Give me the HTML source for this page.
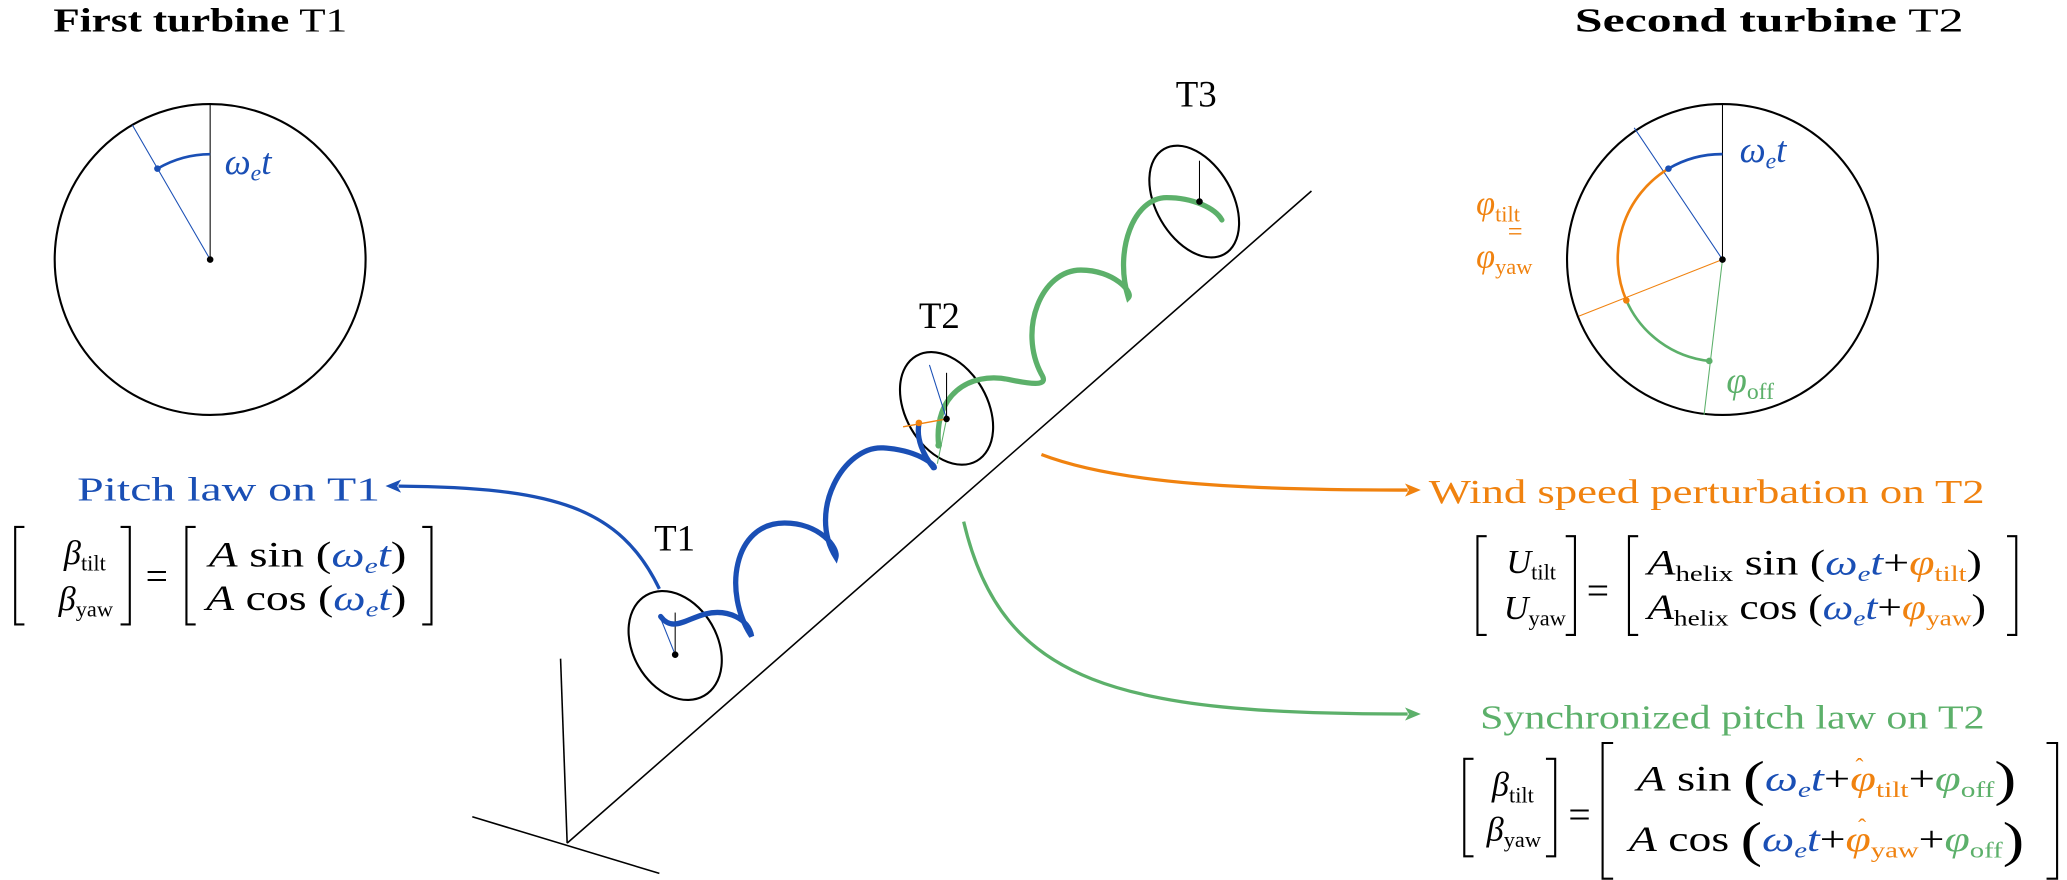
<!DOCTYPE html>
<html><head><meta charset="utf-8"><style>
html,body{margin:0;padding:0;background:#fff;}
svg{display:block;}
text{font-family:"Liberation Serif",serif;}
.b{fill:#1a4fb5}.o{fill:#f0820f}.g{fill:#5cb06a}
</style></head><body>
<svg width="2067" height="880" viewBox="0 0 1568 668" xmlns="http://www.w3.org/2000/svg">
<defs>
<marker id="ab" markerWidth="12" markerHeight="10" refX="2" refY="5" orient="auto" markerUnits="userSpaceOnUse"><path d="M0,0 L12,5 L0,10 L3,5z" fill="#1a4fb5"/></marker>
<marker id="ao" markerWidth="12" markerHeight="10" refX="2" refY="5" orient="auto" markerUnits="userSpaceOnUse"><path d="M0,0 L12,5 L0,10 L3,5z" fill="#f0820f"/></marker>
<marker id="ag" markerWidth="12" markerHeight="10" refX="2" refY="5" orient="auto" markerUnits="userSpaceOnUse"><path d="M0,0 L12,5 L0,10 L3,5z" fill="#5cb06a"/></marker>
</defs>
<text x="40" y="24" font-size="26" textLength="223" lengthAdjust="spacingAndGlyphs"><tspan font-weight="bold">First turbine</tspan> T1</text>
<text x="1195" y="24" font-size="26" textLength="295" lengthAdjust="spacingAndGlyphs"><tspan font-weight="bold">Second turbine</tspan> T2</text>

<circle cx="159" cy="197" r="118" fill="none" stroke="#000" stroke-width="1.6"/>
<line x1="159" y1="79" x2="159" y2="197" stroke="#000" stroke-width="0.8"/>
<line x1="159" y1="197" x2="100" y2="95" stroke="#1a4fb5" stroke-width="0.8"/>
<path d="M159,117 A80,80 0 0 0 119,128" fill="none" stroke="#1a4fb5" stroke-width="2"/>
<circle cx="119" cy="128" r="2.5" fill="#1a4fb5"/>
<circle cx="159" cy="197" r="2.5" fill="#000"/>
<text x="170" y="132" font-size="28" font-style="italic" class="b">ω<tspan font-size="18" dy="5">e</tspan><tspan dy="-5">t</tspan></text>

<circle cx="1307" cy="197" r="118" fill="none" stroke="#000" stroke-width="1.6"/>
<line x1="1307" y1="79" x2="1307" y2="197" stroke="#000" stroke-width="0.8"/>
<line x1="1307" y1="197" x2="1240" y2="97" stroke="#1a4fb5" stroke-width="0.8"/>
<line x1="1307" y1="197" x2="1198" y2="240" stroke="#f0820f" stroke-width="0.8"/>
<line x1="1307" y1="197" x2="1293" y2="315" stroke="#5cb06a" stroke-width="0.8"/>
<path d="M1307,117 A80,80 0 0 0 1266,128" fill="none" stroke="#1a4fb5" stroke-width="2"/>
<path d="M1266,128 A80,80 0 0 0 1234,228" fill="none" stroke="#f0820f" stroke-width="2"/>
<path d="M1234,228 A78,78 0 0 0 1297,274" fill="none" stroke="#5cb06a" stroke-width="2"/>
<circle cx="1266" cy="128" r="2.5" fill="#1a4fb5"/>
<circle cx="1234" cy="228" r="2.5" fill="#f0820f"/>
<circle cx="1297" cy="274" r="2.5" fill="#5cb06a"/>
<circle cx="1307" cy="197" r="2.5" fill="#000"/>
<text x="1320" y="123" font-size="28" font-style="italic" class="b">ω<tspan font-size="18" dy="5">e</tspan><tspan dy="-5">t</tspan></text>
<text x="1120" y="163" font-size="26" class="o"><tspan font-style="italic">φ</tspan><tspan font-size="17" dy="5">tilt</tspan></text>
<text x="1144" y="182" font-size="20" class="o">=</text>
<text x="1120" y="203" font-size="26" class="o"><tspan font-style="italic">φ</tspan><tspan font-size="17" dy="5">yaw</tspan></text>
<text x="1310" y="298" font-size="28" class="g"><tspan font-style="italic">φ</tspan><tspan font-size="18" dy="5">off</tspan></text>

<line x1="430" y1="640" x2="995" y2="145" stroke="#000" stroke-width="1.2"/>
<line x1="425" y1="500" x2="430" y2="640" stroke="#000" stroke-width="1.2"/>
<line x1="358" y1="620" x2="500" y2="663" stroke="#000" stroke-width="1.2"/>

<ellipse cx="512" cy="490" rx="32" ry="44" transform="rotate(-30 512 490)" fill="none" stroke="#000" stroke-width="1.6"/>
<line x1="512" y1="465" x2="512" y2="497" stroke="#000" stroke-width="0.8"/>
<line x1="500" y1="467" x2="512" y2="497" stroke="#1a4fb5" stroke-width="0.8"/>
<circle cx="512" cy="497" r="2.5" fill="#000"/>
<ellipse cx="718" cy="310" rx="31" ry="46" transform="rotate(-30 718 310)" fill="none" stroke="#000" stroke-width="1.6"/>
<ellipse cx="906" cy="153" rx="29" ry="46" transform="rotate(-30 906 153)" fill="none" stroke="#000" stroke-width="1.6"/>
<line x1="910" y1="122" x2="910" y2="153" stroke="#000" stroke-width="0.8"/>

<path d="M501,468 C510,480 520,470 535,466 C552,462 568,470 570,483 C548,450 556,397 595,397 C622,397 636,416 634,423 C612,388 640,338 670,340 C700,342 712,356 708,355 C700,345 695,333 697,322" fill="none" stroke="#1a4fb5" stroke-width="4" stroke-linecap="round"/>
<path d="M712,338 C708,300 735,282 765,288 C788,293 795,292 790,284 C772,250 790,205 820,205 C845,205 860,222 856,226 C845,190 860,150 885,150 C905,150 922,158 927,167" fill="none" stroke="#5cb06a" stroke-width="4" stroke-linecap="round"/>
<line x1="718" y1="283" x2="718" y2="318" stroke="#000" stroke-width="0.8"/>
<line x1="705" y1="277" x2="718" y2="318" stroke="#1a4fb5" stroke-width="0.8"/>
<line x1="685" y1="324" x2="718" y2="318" stroke="#f0820f" stroke-width="1"/>
<line x1="718" y1="318" x2="711" y2="352" stroke="#5cb06a" stroke-width="0.8"/>
<circle cx="697" cy="321" r="2.5" fill="#f0820f"/>
<circle cx="712" cy="338" r="2.5" fill="#5cb06a"/>
<circle cx="718" cy="318" r="2.5" fill="#000"/>
<circle cx="910" cy="153" r="2.5" fill="#000"/>

<text x="496" y="418" font-size="28">T1</text>
<text x="697" y="249" font-size="28">T2</text>
<text x="892" y="81" font-size="28">T3</text>

<path d="M500,447 C470,385 420,370 302,369" fill="none" stroke="#1a4fb5" stroke-width="2.5" marker-end="url(#ab)"/>
<path d="M790,345 C850,368 950,372 1068,372" fill="none" stroke="#f0820f" stroke-width="2.5" marker-end="url(#ao)"/>
<path d="M731,396 C760,520 850,542 1068,542" fill="none" stroke="#5cb06a" stroke-width="2.5" marker-end="url(#ag)"/>

<text x="58" y="380" font-size="26" class="b" textLength="230" lengthAdjust="spacingAndGlyphs">Pitch law on T1</text>
<text x="1084" y="382" font-size="26" class="o" textLength="422" lengthAdjust="spacingAndGlyphs">Wind speed perturbation on T2</text>
<text x="1123" y="553" font-size="26" class="g" textLength="383" lengthAdjust="spacingAndGlyphs">Synchronized pitch law on T2</text>

<g fill="none" stroke="#000" stroke-width="1.6">
<path d="M18,400 H11 V474 H18"/><path d="M91,400 H98 V474 H91"/>
<path d="M148,400 H141 V474 H148"/><path d="M320,400 H327 V474 H320"/>
<path d="M1128,407 H1121 V482 H1128"/><path d="M1188,407 H1195 V482 H1188"/>
<path d="M1243,407 H1236 V482 H1243"/><path d="M1523,407 H1530 V482 H1523"/>
<path d="M1118,576 H1111 V650 H1118"/><path d="M1173,576 H1180 V650 H1173"/>
<path d="M1224,564 H1216 V667 H1224"/><path d="M1553,564 H1561 V667 H1553"/>
</g>
<text x="48" y="428" font-size="26"><tspan font-style="italic">β</tspan><tspan font-size="17" dy="5">tilt</tspan></text>
<text x="44" y="463" font-size="26"><tspan font-style="italic">β</tspan><tspan font-size="17" dy="5">yaw</tspan></text>
<text x="110" y="447" font-size="30">=</text>
<text x="158" y="430" font-size="27" textLength="150" lengthAdjust="spacingAndGlyphs"><tspan font-style="italic">A</tspan> sin (<tspan class="b" font-style="italic">ω<tspan font-size="17" dy="5">e</tspan><tspan dy="-5">t</tspan></tspan>)</text>
<text x="156" y="463" font-size="27" textLength="152" lengthAdjust="spacingAndGlyphs"><tspan font-style="italic">A</tspan> cos (<tspan class="b" font-style="italic">ω<tspan font-size="17" dy="5">e</tspan><tspan dy="-5">t</tspan></tspan>)</text>

<text x="1143" y="435" font-size="26"><tspan font-style="italic">U</tspan><tspan font-size="17" dy="5">tilt</tspan></text>
<text x="1141" y="470" font-size="26"><tspan font-style="italic">U</tspan><tspan font-size="17" dy="5">yaw</tspan></text>
<text x="1204" y="458" font-size="30">=</text>
<text x="1250" y="436" font-size="27" textLength="254" lengthAdjust="spacingAndGlyphs"><tspan font-style="italic">A</tspan><tspan font-size="17" dy="5">helix</tspan><tspan dy="-5"> sin (</tspan><tspan class="b" font-style="italic">ω<tspan font-size="17" dy="5">e</tspan><tspan dy="-5">t</tspan></tspan>+<tspan class="o"><tspan font-style="italic">φ</tspan><tspan font-size="17" dy="5">tilt</tspan></tspan><tspan dy="-5">)</tspan></text>
<text x="1250" y="470" font-size="27" textLength="257" lengthAdjust="spacingAndGlyphs"><tspan font-style="italic">A</tspan><tspan font-size="17" dy="5">helix</tspan><tspan dy="-5"> cos (</tspan><tspan class="b" font-style="italic">ω<tspan font-size="17" dy="5">e</tspan><tspan dy="-5">t</tspan></tspan>+<tspan class="o"><tspan font-style="italic">φ</tspan><tspan font-size="17" dy="5">yaw</tspan></tspan><tspan dy="-5">)</tspan></text>

<text x="1132" y="604" font-size="26"><tspan font-style="italic">β</tspan><tspan font-size="17" dy="5">tilt</tspan></text>
<text x="1128" y="638" font-size="26"><tspan font-style="italic">β</tspan><tspan font-size="17" dy="5">yaw</tspan></text>
<text x="1190" y="628" font-size="30">=</text>
<text x="1242" y="600" font-size="27" textLength="288" lengthAdjust="spacingAndGlyphs"><tspan font-style="italic">A</tspan> sin <tspan font-size="38" dy="4">(</tspan><tspan dy="-4" class="b" font-style="italic">ω<tspan font-size="17" dy="5">e</tspan><tspan dy="-5">t</tspan></tspan>+<tspan class="o"><tspan font-style="italic">φ</tspan><tspan font-size="17" dy="5">tilt</tspan></tspan><tspan dy="-5">+</tspan><tspan class="g"><tspan font-style="italic">φ</tspan><tspan font-size="17" dy="5">off</tspan></tspan><tspan font-size="38" dy="-1">)</tspan></text>
<text x="1236" y="646" font-size="27" textLength="300" lengthAdjust="spacingAndGlyphs"><tspan font-style="italic">A</tspan> cos <tspan font-size="38" dy="4">(</tspan><tspan dy="-4" class="b" font-style="italic">ω<tspan font-size="17" dy="5">e</tspan><tspan dy="-5">t</tspan></tspan>+<tspan class="o"><tspan font-style="italic">φ</tspan><tspan font-size="17" dy="5">yaw</tspan></tspan><tspan dy="-5">+</tspan><tspan class="g"><tspan font-style="italic">φ</tspan><tspan font-size="17" dy="5">off</tspan></tspan><tspan font-size="38" dy="-1">)</tspan></text>
<text x="1408" y="588" font-size="18" class="o">ˆ</text>
<text x="1410" y="634" font-size="18" class="o">ˆ</text>
</svg>
</body></html>
